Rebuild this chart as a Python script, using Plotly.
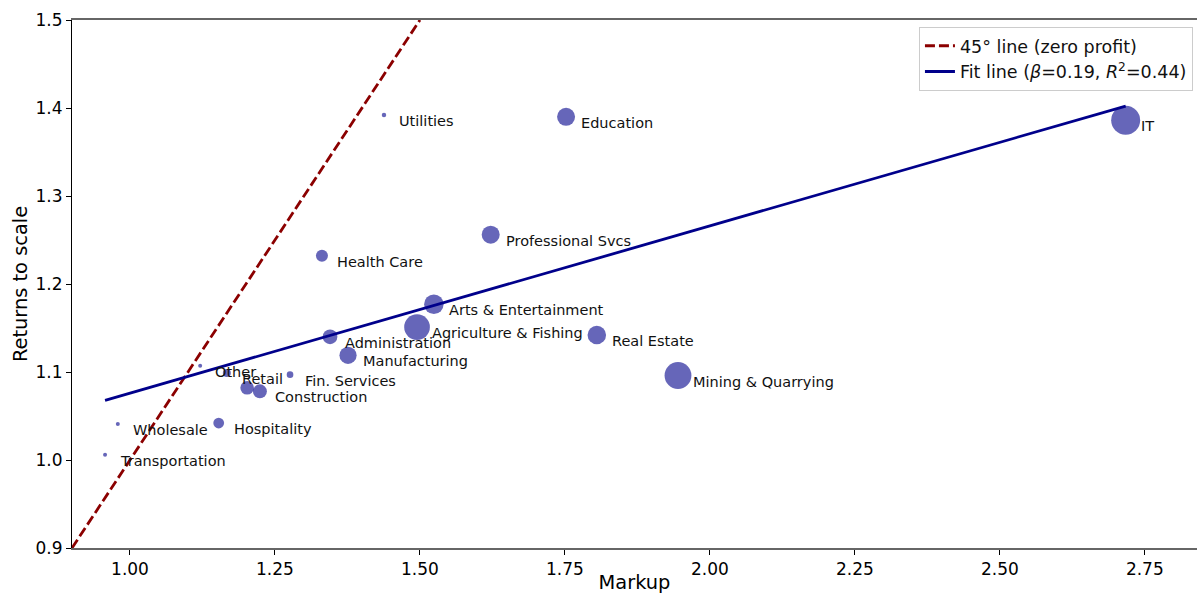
import numpy as np
import plotly.graph_objects as go

# Industry-level estimates: markup vs. returns to scale
industries = [
    "Utilities", "Education", "IT", "Professional Svcs", "Health Care",
    "Arts & Entertainment", "Agriculture & Fishing", "Administration",
    "Real Estate", "Manufacturing", "Mining & Quarrying", "Fin. Services",
    "Other", "Retail", "", "Construction", "Wholesale", "Hospitality",
    "Transportation",
]
markup = [
    1.438, 1.752, 2.717, 1.622, 1.331,
    1.524, 1.495, 1.345,
    1.805, 1.376, 1.945, 1.276,
    1.121, 1.167, 1.202, 1.224, 0.979, 1.153,
    0.957,
]
returns_to_scale = [
    1.392, 1.390, 1.386, 1.256, 1.232,
    1.177, 1.151, 1.140,
    1.142, 1.119, 1.096, 1.097,
    1.107, 1.099, 1.082, 1.078, 1.041, 1.042,
    1.006,
]
# relative industry weight (marker area)
weight = [
    5, 81, 210, 81, 36,
    95, 165, 54,
    86, 74, 180, 11,
    4, 16, 46, 49, 4, 29,
    4,
]

fit_beta = 0.19
fit_alpha = 0.886
fit_r2 = 0.44

x_limits = [0.9, 2.84]
y_limits = [0.9, 1.5]
x_ticks = [1.00, 1.25, 1.50, 1.75, 2.00, 2.25, 2.50, 2.75]
y_ticks = [0.9, 1.0, 1.1, 1.2, 1.3, 1.4, 1.5]

font_family = "DejaVu Sans"

w = np.asarray(weight, dtype=float)
marker_diam = 2.0 * np.sqrt(w)

fig = go.Figure()

fig.add_trace(go.Scatter(
    x=markup, y=returns_to_scale, mode="markers",
    marker=dict(size=marker_diam, color="rgba(0,0,139,0.6)", opacity=1,
                line=dict(width=0)),
    text=industries, hoverinfo="text+x+y", showlegend=False,
))

# 45-degree reference line
fig.add_trace(go.Scatter(
    x=[y_limits[0], y_limits[1]], y=[y_limits[0], y_limits[1]], mode="lines",
    line=dict(color="#8B0000", width=2.8, dash="10px,4px"),
    name="45° line (zero profit)",
))

# fitted line across the range of markups
x_fit = np.array([min(markup), max(markup)])
fig.add_trace(go.Scatter(
    x=x_fit, y=fit_alpha + fit_beta * x_fit, mode="lines",
    line=dict(color="#00008B", width=2.8),
    name=f"Fit line (<i>β</i>={fit_beta:.2f}, <i>R</i><sup>2</sup>={fit_r2:.2f})",
))

for name, xv, yv in zip(industries, markup, returns_to_scale):
    if not name:
        continue
    fig.add_annotation(
        x=xv, y=yv, text=name, showarrow=False,
        xanchor="left", yanchor="middle", xshift=13, yshift=-6,
        font=dict(family=font_family, size=14.5, color="#111"),
    )

fig.update_layout(
    width=1197, height=594,
    margin=dict(l=72, r=0, t=20, b=46),
    paper_bgcolor="white", plot_bgcolor="white",
    font=dict(family=font_family, size=17, color="black"),
    legend=dict(
        x=0.9964, y=0.987, xanchor="right", yanchor="top",
        bgcolor="white", bordercolor="#cccccc", borderwidth=1,
        font=dict(family=font_family, size=17.5, color="#111"),
        tracegroupgap=4,
    ),
)

fig.update_xaxes(
    range=x_limits, tickvals=x_ticks, tickformat=".2f",
    showgrid=False, zeroline=False, automargin=False,
    showline=True, linecolor="#666666", linewidth=1.5, mirror=True,
    ticks="outside", ticklen=5, tickcolor="black",
    title=dict(text="Markup", font=dict(size=19.4), standoff=8),
)
fig.update_yaxes(
    range=y_limits, tickvals=y_ticks, tickformat=".1f",
    showgrid=False, zeroline=False, automargin=False,
    showline=True, linecolor="black", linewidth=1,
    ticks="outside", ticklen=5, tickcolor="black",
    title=dict(text="Returns to scale", font=dict(size=19.4), standoff=2),
)

fig.write_html("out.html")
